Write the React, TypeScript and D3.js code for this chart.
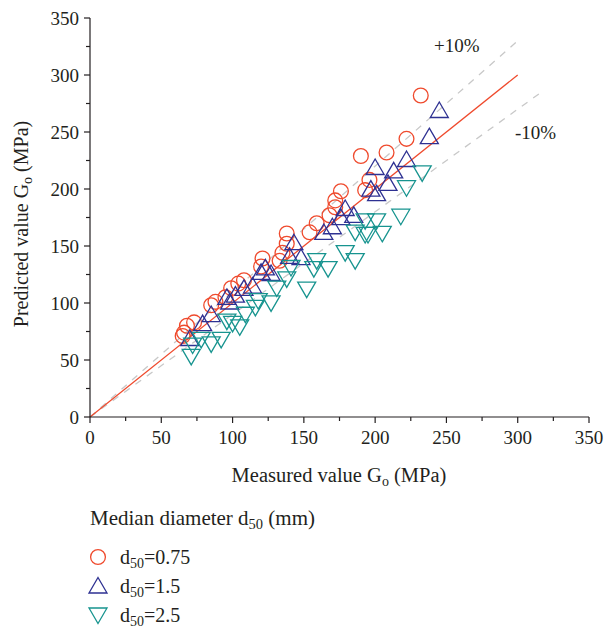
import React from "react";
import * as d3 from "d3";

const xTicks = [0, 50, 100, 150, 200, 250, 300, 350];
const yTicks = [0, 50, 100, 150, 200, 250, 300, 350];
const seriesNames = ["0.75", "1.5", "2.5"];

const circles: [number, number][] = [
  [65, 71], [66, 74], [68, 80], [73, 83], [85, 98], [88, 101], [95, 105], [99, 113],
  [104, 117], [108, 120], [120, 132], [121, 139], [133, 137], [135, 144], [138, 152],
  [138, 161], [154, 162], [159, 170], [168, 177], [172, 184], [172, 190], [176, 198],
  [190, 229], [193, 199], [196, 208], [208, 232], [222, 244], [232, 282],
];
const upTriangles: [number, number][] = [
  [70, 68], [79, 81], [85, 89], [96, 104], [98, 100], [102, 106], [108, 112], [114, 114],
  [120, 126], [123, 130], [127, 125], [140, 140], [143, 152], [148, 139], [164, 161],
  [170, 166], [176, 174], [179, 182], [185, 176], [197, 199], [200, 218], [201, 195],
  [209, 204], [213, 215], [222, 225], [238, 245], [245, 268],
];
const downTriangles: [number, number][] = [
  [71, 54], [72, 64], [78, 69], [85, 65], [92, 69], [96, 85], [100, 83], [105, 80],
  [109, 91], [116, 97], [118, 103], [127, 101], [131, 114], [138, 122], [141, 132],
  [152, 113], [157, 131], [159, 138], [167, 131], [179, 145], [186, 138], [186, 163],
  [193, 161], [193, 173], [195, 161], [201, 173], [205, 162], [218, 177], [222, 202],
  [233, 215],
];

const RED = "#ef4a2d";
const NAVY = "#2e3192";
const TEAL = "#17948f";
const AX = "#231f20";
const FONT = "'Liberation Serif', 'DejaVu Serif', serif";

const upPath = "M0,-9.5 L9,6 L-9,6 Z";
const downPath = "M0,9.5 L9,-6 L-9,-6 Z";

export default function App() {
  const x = d3.scaleLinear().domain([0, 350]).range([90, 589]);
  const y = d3.scaleLinear().domain([0, 350]).range([417, 18]);
  const minorX = d3.range(25, 350, 50);
  const minorY = d3.range(25, 350, 50);
  const line = d3.line<[number, number]>().x((d) => x(d[0])).y((d) => y(d[1]));

  return (
    <svg width={607} height={631} style={{ position: "absolute", left: 0, top: 0 }} fontFamily={FONT}>
      <rect width={607} height={631} fill="#fff" />
      {/* reference lines */}
      <path d={line([[0, 0], [300, 330]]) || ""} stroke="#c8c8c8" strokeWidth={1.3} strokeDasharray="7,7" fill="none" />
      <path d={line([[0, 0], [315, 283.5]]) || ""} stroke="#c8c8c8" strokeWidth={1.3} strokeDasharray="7,7" fill="none" />
      <path d={line([[0, 0], [300, 300]]) || ""} stroke={RED} strokeWidth={1.3} fill="none" />

      {/* data */}
      {circles.map((d, i) => (
        <circle key={"c" + i} cx={x(d[0])} cy={y(d[1])} r={7.4} fill="none" stroke={RED} strokeWidth={1.3} />
      ))}
      {upTriangles.map((d, i) => (
        <path key={"u" + i} d={upPath} transform={`translate(${x(d[0])},${y(d[1])})`} fill="none" stroke={NAVY} strokeWidth={1.3} />
      ))}
      {downTriangles.map((d, i) => (
        <path key={"d" + i} d={downPath} transform={`translate(${x(d[0])},${y(d[1])})`} fill="none" stroke={TEAL} strokeWidth={1.3} />
      ))}

      {/* axes */}
      <line x1={90} x2={589} y1={417} y2={417} stroke={AX} strokeWidth={1.2} />
      <line x1={90} x2={90} y1={18} y2={417} stroke={AX} strokeWidth={1.2} />
      {xTicks.map((t) => (
        <g key={"xt" + t}>
          <line x1={x(t)} x2={x(t)} y1={417} y2={423} stroke={AX} strokeWidth={1.2} />
          <text x={x(t)} y={444} textAnchor="middle" fontSize={19} fill={AX}>{t}</text>
        </g>
      ))}
      {minorX.map((t) => (
        <line key={"xm" + t} x1={x(t)} x2={x(t)} y1={417} y2={421} stroke={AX} strokeWidth={1.2} />
      ))}
      {yTicks.map((t) => (
        <g key={"yt" + t}>
          <line x1={84} x2={90} y1={y(t)} y2={y(t)} stroke={AX} strokeWidth={1.2} />
          <text x={79} y={y(t) + 6.5} textAnchor="end" fontSize={19} fill={AX}>{t}</text>
        </g>
      ))}
      {minorY.map((t) => (
        <line key={"ym" + t} x1={86} x2={90} y1={y(t)} y2={y(t)} stroke={AX} strokeWidth={1.2} />
      ))}

      {/* axis titles */}
      <text x={339} y={482} textAnchor="middle" fontSize={20.5} fill={AX}>
        Measured value G<tspan fontSize={14} dy={4}>o</tspan><tspan dy={-4}> (MPa)</tspan>
      </text>
      <text transform="translate(28,224) rotate(-90)" textAnchor="middle" fontSize={20} fill={AX}>
        Predicted value G<tspan fontSize={14} dy={4}>o</tspan><tspan dy={-4}> (MPa)</tspan>
      </text>

      {/* annotations */}
      <text x={434} y={52} fontSize={19} fill={AX}>+10%</text>
      <text x={515} y={139} fontSize={19} fill={AX}>-10%</text>

      {/* legend */}
      <text x={90} y={525} fontSize={21} fill={AX}>
        Median diameter d<tspan fontSize={14.5} dy={4}>50</tspan><tspan dy={-4}> (mm)</tspan>
      </text>
      <circle cx={98} cy={557} r={7.4} fill="none" stroke={RED} strokeWidth={1.3} />
      <path d={upPath} transform="translate(98,587)" fill="none" stroke={NAVY} strokeWidth={1.3} />
      <path d={downPath} transform="translate(98,614)" fill="none" stroke={TEAL} strokeWidth={1.3} />
      {seriesNames.map((s, i) => (
        <text key={"lg" + i} x={120} y={564 + i * 29} fontSize={20} fill={AX}>
          d<tspan fontSize={14} dy={4}>50</tspan><tspan dy={-4}>={s}</tspan>
        </text>
      ))}
    </svg>
  );
}
